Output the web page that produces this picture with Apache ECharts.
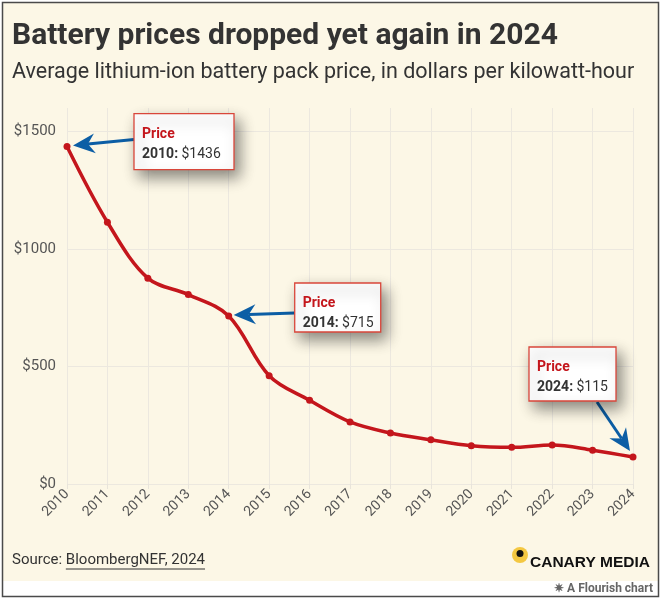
<!DOCTYPE html>
<html>
<head>
<meta charset="utf-8">
<script src="https://cdn.jsdelivr.net/npm/echarts@6/dist/echarts.min.js"></script>
<style>
html,body{margin:0;padding:0;background:#fff;}
#c{width:663px;height:600px;}
</style>
</head>
<body>
<div id="c"></div>
<script>
const years = ['2010','2011','2012','2013','2014','2015','2016','2017','2018','2019','2020','2021','2022','2023','2024'];
const prices = [1436,1114,876,806,715,461,356,264,217,188,163,156,166,144,115];
const yTicks = [0,500,1000,1500];
const annotations = [
  {year:'2010', value:1436},
  {year:'2014', value:715},
  {year:'2024', value:115}
];
const titleText = 'Battery prices dropped yet again in 2024';
const subtitleText = 'Average lithium-ion battery pack price, in dollars per kilowatt-hour';

const CREAM = '#fcf7e6';
const RED = '#c4161c';
const BLUE = '#0c5ea5';
const FONT = 'Roboto, "Noto Sans", sans-serif';

const chart = echarts.init(document.getElementById('c'), null, {renderer:'canvas'});

const base = {
  backgroundColor: '#ffffff',
  animation: false,
  grid: {left: 67, right: 30, top: 108, bottom: 116},
  xAxis: {
    type: 'category',
    data: years,
    boundaryGap: false,
    axisLine: {show: false},
    axisTick: {show: true, length: 5, lineStyle: {color: '#e8e4da'}},
    splitLine: {show: true, lineStyle: {color: '#ece8df', width: 1}},
    axisLabel: {rotate: 45, color: '#555', fontSize: 14, fontFamily: FONT, margin: 8, interval: 0}
  },
  yAxis: {
    type: 'value',
    min: 0, max: 1600, interval: 500,
    axisLine: {show: false},
    axisTick: {show: false},
    splitLine: {show: true, lineStyle: {color: ['#ece8df','#ece8df','#ece8df','#ece8df','rgba(0,0,0,0)'], width: 1}},
    axisLabel: {
      color: '#555', fontSize: 15, fontFamily: FONT, margin: 11,
      formatter: v => yTicks.indexOf(v) >= 0 ? '$' + v : ''
    }
  },
  series: [{
    type: 'line',
    data: prices,
    smooth: 0.35,
    symbol: 'circle',
    symbolSize: 7,
    lineStyle: {color: RED, width: 3.5},
    itemStyle: {color: RED},
    z: 5
  }]
};
chart.setOption(base);

function measure(text, font) {
  const cv = document.createElement('canvas').getContext('2d');
  cv.font = font;
  return cv.measureText(text).width;
}

const g = [];
g.push({type:'rect', shape:{x:3,y:3,width:656,height:578}, style:{fill:CREAM}, z:-10, silent:true});
g.push({type:'rect', shape:{x:2.5,y:2.5,width:656,height:594}, style:{fill:null, stroke:'#4a4a4a', lineWidth:1.5}, z:100, silent:true});
g.push({type:'text', x:12, y:36, style:{text:titleText, fill:'#333', font:'bold 30px ' + FONT, textVerticalAlign:'middle'}, z:50});
g.push({type:'text', x:12, y:73, style:{text:subtitleText, fill:'#333', font:'21.5px ' + FONT, textVerticalAlign:'middle'}, z:50});
const srcFont = '15px ' + FONT;
const wSrc = measure('Source: ', srcFont);
const wLink = measure('BloombergNEF, 2024', srcFont);
g.push({type:'text', x:12, y:560, style:{text:'Source: ', fill:'#333', font:srcFont, textVerticalAlign:'middle'}, z:50});
g.push({type:'text', x:12 + wSrc, y:560, style:{text:'BloombergNEF, 2024', fill:'#333', font:srcFont, textVerticalAlign:'middle'}, z:50});
g.push({type:'line', shape:{x1:12 + wSrc, y1:569, x2:12 + wSrc + wLink, y2:569}, style:{stroke:'#333', lineWidth:1}, z:50});
g.push({type:'circle', shape:{cx:520, cy:555, r:8}, style:{fill:'#f4c842'}, z:50});
g.push({type:'circle', shape:{cx:520, cy:553.5, r:3.5}, style:{fill:'#111'}, z:51});
g.push({type:'text', x:530, y:563, style:{text:'CANARY MEDIA', fill:'#111', font:'bold 15.5px "Liberation Sans", Arial, sans-serif', textVerticalAlign:'middle'}, z:50});
g.push({type:'rect', shape:{x:3,y:581,width:656,height:15}, style:{fill:'#ffffff'}, z:-9, silent:true});
g.push({type:'text', x:653, y:589, style:{text:'\u2737 A Flourish chart', fill:'#666', font:'bold 12px ' + FONT, textAlign:'right', textVerticalAlign:'middle'}, z:50});

const boxDefs = [
  {dx:67, dy:-33, w:100, h:56, tail:[67, -7], tipOff:[6,-1]},
  {dx:66, dy:-33, w:86, h:49, tail:[66, -3], tipOff:[5,-1]},
  {dx:-104, dy:-110, w:87, h:54, tail:[-36, -55], tipOff:[-3,-6]}
];
function arrow(x1,y1,x2,y2){
  const dx = x2-x1, dy = y2-y1, L = Math.sqrt(dx*dx+dy*dy);
  const ux = dx/L, uy = dy/L, nx = -uy, ny = ux;
  const hl = 22, hw = 10, notch = 15;
  const bx = x2 - ux*hl, by = y2 - uy*hl;
  const mx = x2 - ux*notch, my = y2 - uy*notch;
  g.push({type:'line', shape:{x1:x1, y1:y1, x2:mx, y2:my}, style:{stroke:BLUE, lineWidth:3}, z:20});
  g.push({type:'polygon', shape:{points:[[x2,y2],[bx+nx*hw, by+ny*hw],[mx,my],[bx-nx*hw, by-ny*hw]]}, style:{fill:BLUE}, z:21});
}
annotations.forEach((a, i) => {
  const p = chart.convertToPixel({xAxisIndex:0, yAxisIndex:0}, [a.year, a.value]);
  const d = boxDefs[i];
  const bx = p[0] + d.dx, by = p[1] + d.dy;
  arrow(p[0] + d.tail[0], p[1] + d.tail[1], p[0] + d.tipOff[0], p[1] + d.tipOff[1]);
  g.push({type:'rect', shape:{x:bx, y:by, width:d.w, height:d.h},
    style:{fill:'#fff', stroke:'#d9463a', lineWidth:1.3, shadowBlur:14, shadowOffsetX:5, shadowOffsetY:7, shadowColor:'rgba(0,0,0,0.45)'}, z:30});
  g.push({type:'text', x:bx + 8, y:by + 21, style:{text:'Price', fill:RED, font:'bold 14px ' + FONT, textVerticalAlign:'middle'}, z:31});
  g.push({type:'text', x:bx + 8, y:by + 41, style:{
    text:'{b|' + a.year + ':} {v|$' + a.value + '}',
    textVerticalAlign:'middle',
    rich:{b:{font:'bold 14px ' + FONT, fill:'#333'}, v:{font:'14px ' + FONT, fill:'#333'}}
  }, z:31});
});

chart.setOption({graphic: g});
</script>
</body>
</html>
